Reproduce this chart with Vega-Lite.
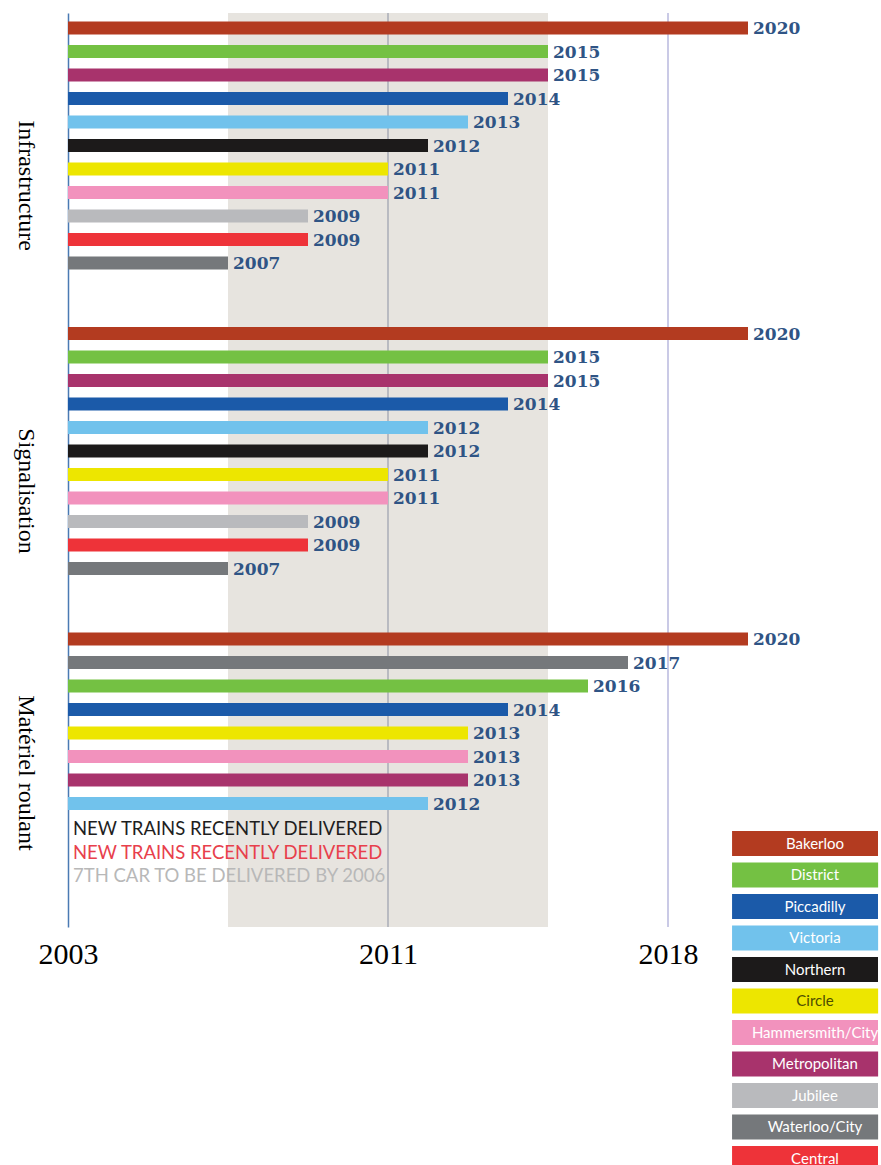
{
  "$schema": "https://vega.github.io/schema/vega-lite/v6.json",
  "background": "white",
  "padding": {"left": 13, "top": 12, "right": 0, "bottom": 0},
  "width": 800,
  "height": 914,
  "datasets": {
    "rows": [
      {"group": "Infrastructure", "line": "Bakerloo", "year": 2020},
      {"group": "Infrastructure", "line": "District", "year": 2015},
      {"group": "Infrastructure", "line": "Metropolitan", "year": 2015},
      {"group": "Infrastructure", "line": "Piccadilly", "year": 2014},
      {"group": "Infrastructure", "line": "Victoria", "year": 2013},
      {"group": "Infrastructure", "line": "Northern", "year": 2012},
      {"group": "Infrastructure", "line": "Circle", "year": 2011},
      {"group": "Infrastructure", "line": "Hammersmith/City", "year": 2011},
      {"group": "Infrastructure", "line": "Jubilee", "year": 2009},
      {"group": "Infrastructure", "line": "Central", "year": 2009},
      {"group": "Infrastructure", "line": "Waterloo/City", "year": 2007},
      {"group": "Signalisation", "line": "Bakerloo", "year": 2020},
      {"group": "Signalisation", "line": "District", "year": 2015},
      {"group": "Signalisation", "line": "Metropolitan", "year": 2015},
      {"group": "Signalisation", "line": "Piccadilly", "year": 2014},
      {"group": "Signalisation", "line": "Victoria", "year": 2012},
      {"group": "Signalisation", "line": "Northern", "year": 2012},
      {"group": "Signalisation", "line": "Circle", "year": 2011},
      {"group": "Signalisation", "line": "Hammersmith/City", "year": 2011},
      {"group": "Signalisation", "line": "Jubilee", "year": 2009},
      {"group": "Signalisation", "line": "Central", "year": 2009},
      {"group": "Signalisation", "line": "Waterloo/City", "year": 2007},
      {"group": "Matériel roulant", "line": "Bakerloo", "year": 2020},
      {"group": "Matériel roulant", "line": "Waterloo/City", "year": 2017},
      {"group": "Matériel roulant", "line": "District", "year": 2016},
      {"group": "Matériel roulant", "line": "Piccadilly", "year": 2014},
      {"group": "Matériel roulant", "line": "Circle", "year": 2013},
      {"group": "Matériel roulant", "line": "Hammersmith/City", "year": 2013},
      {"group": "Matériel roulant", "line": "Metropolitan", "year": 2013},
      {"group": "Matériel roulant", "line": "Victoria", "year": 2012}
    ],
    "notes": [
      {"key": "note1", "note": "NEW TRAINS RECENTLY DELIVERED"},
      {"key": "note2", "note": "NEW TRAINS RECENTLY DELIVERED"},
      {"key": "note3", "note": "7TH CAR TO BE DELIVERED BY 2006"}
    ]
  },
  "layer": [
    {"data": {"values": [{}]}, "mark": {"type": "rect", "color": "#e7e4df"},
     "encoding": {"x": {"datum": 2007, "type": "quantitative"}, "x2": {"datum": 2015}}},
    {"data": {"values": [{}]}, "mark": {"type": "rule", "color": "#8b91a3", "strokeWidth": 1},
     "encoding": {"x": {"datum": 2011, "type": "quantitative"}}},
    {"data": {"values": [{}]}, "mark": {"type": "rule", "color": "#cacae6", "strokeWidth": 2},
     "encoding": {"x": {"datum": 2018, "type": "quantitative"}}},
    {"data": {"name": "rows"},
     "transform": [{"calculate": "datum.group + '|' + datum.line", "as": "key"}],
     "mark": {"type": "bar"},
     "encoding": {
       "y": {"field": "key", "type": "nominal"},
       "x": {"field": "year", "type": "quantitative"},
       "x2": {"datum": 2003},
       "color": {"field": "line", "type": "nominal",
                 "scale": {"domain": ["Bakerloo","District","Piccadilly","Victoria","Northern","Circle","Hammersmith/City","Metropolitan","Jubilee","Waterloo/City","Central"],
                           "range": ["#b33b20","#74c143","#1b5aa9","#71c2ec","#1c1a1a","#ede600","#f292bd","#a8336c","#b9babd","#75787b","#ee3339"]},
                 "legend": {"title": null, "orient": "none", "legendX": 664, "legendY": 818, "padding": 0, "offset": 0,
                            "symbolType": "M-1,-0.156H1V0.156H-1Z", "symbolSize": 32000, "symbolStrokeWidth": 0, "symbolOffset": 0,
                            "clipHeight": 25, "rowPadding": 6.5, "labelAlign": "center", "labelBaseline": "middle", "labelOffset": -96,
                            "labelFont": "Lato", "labelFontSize": 15, "labelLimit": 300,
                            "encode": {"labels": {"update": {"fill": {"signal": "datum.value === 'Circle' ? '#4d4d00' : '#ffffff'"}}}}}}
     }},
    {"data": {"name": "rows"},
     "transform": [{"calculate": "datum.group + '|' + datum.line", "as": "key"}],
     "mark": {"type": "text", "align": "left", "baseline": "middle", "dx": 5, "dy": 1, "font": "DejaVu Serif", "fontWeight": "bold", "fontSize": 17, "color": "#2f5485"},
     "encoding": {
       "y": {"field": "key", "type": "nominal"},
       "x": {"field": "year", "type": "quantitative"},
       "text": {"field": "year", "type": "quantitative", "format": "d"}
     }},
    {"data": {"name": "notes"},
     "mark": {"type": "text", "align": "left", "baseline": "middle", "dx": 5, "dy": 2, "font": "Lato", "fontSize": 18.5},
     "encoding": {
       "y": {"field": "key", "type": "nominal"},
       "x": {"datum": 2003, "type": "quantitative"},
       "text": {"field": "note", "type": "nominal"},
       "color": {"condition": [{"test": "datum.key === 'note1'", "value": "#1e1e1e"}, {"test": "datum.key === 'note2'", "value": "#e8404c"}], "value": "#b8b8b8"}
     }}
  ],
  "encoding": {
    "x": {"type": "quantitative",
          "scale": {"domain": [2003, 2023], "zero": false, "nice": false},
          "axis": {"values": [2003, 2011, 2018], "format": "d", "title": null, "domain": false, "ticks": false, "grid": false,
                   "labelFont": "Liberation Serif", "labelFontSize": 30, "labelColor": "black", "labelPadding": 12, "labelFlush": false}},
    "y": {"type": "nominal",
          "scale": {"domain": [
            "Infrastructure|Bakerloo","Infrastructure|District","Infrastructure|Metropolitan","Infrastructure|Piccadilly","Infrastructure|Victoria","Infrastructure|Northern","Infrastructure|Circle","Infrastructure|Hammersmith/City","Infrastructure|Jubilee","Infrastructure|Central","Infrastructure|Waterloo/City",
            "gap1","gap2",
            "Signalisation|Bakerloo","Signalisation|District","Signalisation|Metropolitan","Signalisation|Piccadilly","Signalisation|Victoria","Signalisation|Northern","Signalisation|Circle","Signalisation|Hammersmith/City","Signalisation|Jubilee","Signalisation|Central","Signalisation|Waterloo/City",
            "gap3","gap4",
            "Matériel roulant|Bakerloo","Matériel roulant|Waterloo/City","Matériel roulant|District","Matériel roulant|Piccadilly","Matériel roulant|Circle","Matériel roulant|Hammersmith/City","Matériel roulant|Metropolitan","Matériel roulant|Victoria",
            "note1","note2","note3","gap5"],
            "paddingInner": 0.447, "paddingOuter": 0.67, "align": 0.27},
          "axis": {"values": ["Infrastructure|Hammersmith/City", "Signalisation|Hammersmith/City", "Matériel roulant|Metropolitan"],
                   "labelExpr": "split(datum.value, '|')[0]",
                   "title": null, "ticks": false, "tickSize": 0, "grid": false,
                   "domain": true, "domainColor": "#4a7ab3", "domainWidth": 1.5,
                   "labelAngle": 90, "labelAlign": "center", "labelBaseline": "middle", "labelPadding": 43, "labelOffset": -7,
                   "labelFont": "Liberation Serif", "labelFontSize": 24, "labelColor": "black", "labelLimit": 300, "labelOverlap": false}}
  },
  "config": {"view": {"stroke": null}}
}
